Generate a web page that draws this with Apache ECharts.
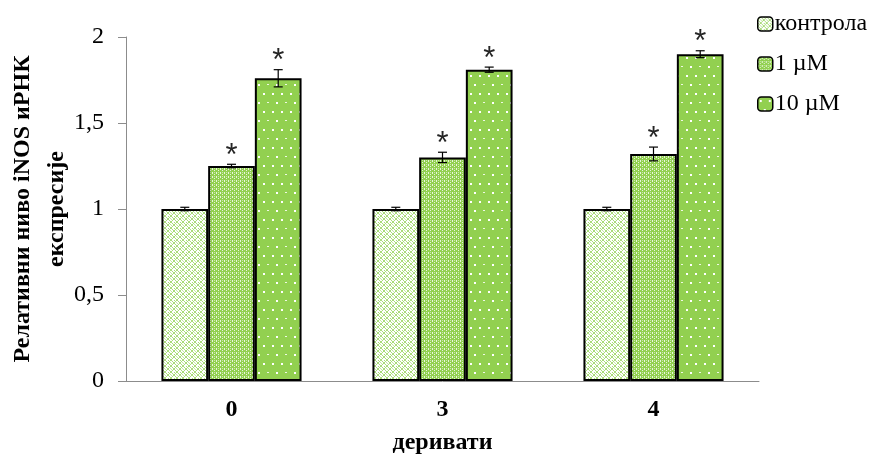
<!DOCTYPE html>
<html>
<head>
<meta charset="utf-8">
<script src="https://cdn.jsdelivr.net/npm/echarts@6/dist/echarts.min.js"></script>
<style>
  html, body { margin: 0; padding: 0; background: #fff; }
  #chart { width: 873px; height: 459px; }
</style>
</head>
<body>
<div id="chart"></div>
<script>
// Relative iNOS mRNA expression per derivative
const categories = ['0', '3', '4'];
const seriesNames = ['контрола', '1 µM', '10 µM'];
const kontrola = [1.00, 1.00, 1.00];
const um1 = [1.25, 1.30, 1.32];
const um10 = [1.76, 1.81, 1.90];
const errKontrola = [0.01, 0.01, 0.01];
const errUm1 = [0.01, 0.03, 0.04];
const errUm10 = [0.05, 0.015, 0.02];
const starKontrola = [false, false, false];
const starUm1 = [true, true, true];
const starUm10 = [true, true, true];
const yTicks = [0, 0.5, 1, 1.5, 2];

const GREEN = '#92d050';
const SERIF = '"Liberation Serif", "Times New Roman", serif';

// Fill tiles for the three bar styles
function makeTile(size, draw) {
  const c = document.createElement('canvas');
  c.width = size; c.height = size;
  const ctx = c.getContext('2d');
  draw(ctx, size);
  return c;
}
// light lattice on white
const tileKontrola = makeTile(6, (ctx, s) => {
  ctx.fillStyle = '#ffffff'; ctx.fillRect(0, 0, s, s);
  ctx.fillStyle = '#a9dc7a';
  ctx.fillRect(0, 0, 1, 1); ctx.fillRect(2, 0, 2, 1);
  ctx.fillRect(1, 1, 1, 1); ctx.fillRect(4, 1, 1, 1);
  ctx.fillRect(0, 2, 1, 2); ctx.fillRect(5, 2, 1, 2);
  ctx.fillRect(1, 4, 1, 1); ctx.fillRect(4, 4, 1, 1);
  ctx.fillRect(2, 5, 2, 1);
  ctx.fillStyle = '#c6e8a6';
  ctx.fillRect(3, 3, 1, 1); ctx.fillRect(2, 2, 1, 1);
});
// dense small white dots on green
const tileUm1 = makeTile(4, (ctx, s) => {
  ctx.fillStyle = GREEN; ctx.fillRect(0, 0, s, s);
  ctx.fillStyle = '#e8f5dc';
  ctx.fillRect(0, 0, 1, 2);
  ctx.fillRect(2, 2, 1, 1);
  ctx.fillStyle = '#c7e8a8';
  ctx.fillRect(2, 0, 1, 1);
});
// sparse white dots on green
const tileUm10 = makeTile(18, (ctx, s) => {
  ctx.fillStyle = GREEN; ctx.fillRect(0, 0, s, s);
  ctx.fillStyle = '#ffffff';
  ctx.fillRect(2, 3, 2, 2);
  ctx.fillRect(11, 3, 2, 2);
  ctx.fillRect(6, 12, 2, 2);
  ctx.fillStyle = '#eef8e4';
  ctx.fillRect(15, 12, 2, 1);
});

const fills = [tileKontrola, tileUm1, tileUm10].map(t => ({ image: t, repeat: 'repeat' }));
const values = [kontrola, um1, um10];
const errors = [errKontrola, errUm1, errUm10];
const stars = [starKontrola, starUm1, starUm10];
const CATEGORY_GAP = 0.336;

// rows for the error-bar / significance layer: [category, series, value, err, star]
const markRows = [];
categories.forEach((c, i) => {
  values.forEach((v, s) => {
    markRows.push([i, s, v[i], errors[s][i], stars[s][i] ? 1 : 0]);
  });
});

const barSeries = seriesNames.map((name, s) => ({
  name: name,
  type: 'bar',
  data: values[s],
  barGap: '0%',
  barCategoryGap: (CATEGORY_GAP * 100) + '%',
  itemStyle: { color: fills[s], borderColor: '#000', borderWidth: 2 },
  emphasis: { disabled: true },
  silent: true,
  z: 2
}));

const errorSeries = {
  type: 'custom',
  silent: true,
  z: 5,
  data: markRows,
  encode: { x: 0, y: 2 },
  renderItem: function (params, api) {
    const cat = api.value(0), s = api.value(1);
    const v = api.value(2), e = api.value(3), star = api.value(4);
    const band = api.size([1, 0])[0];
    const barW = band * (1 - CATEGORY_GAP) / 3;
    const cx = api.coord([cat, v])[0] + (s - 1) * barW;
    const yTop = api.coord([cat, v + e])[1];
    const yBot = api.coord([cat, v - e])[1];
    const cap = 4.5;
    const st = { stroke: '#000', lineWidth: 1.2 };
    const children = [
      { type: 'line', shape: { x1: cx, y1: yTop, x2: cx, y2: yBot }, style: st },
      { type: 'line', shape: { x1: cx - cap, y1: yTop, x2: cx + cap, y2: yTop }, style: st },
      { type: 'line', shape: { x1: cx - cap, y1: yBot, x2: cx + cap, y2: yBot }, style: st }
    ];
    if (star) {
      children.push({
        type: 'text',
        style: {
          text: '*', x: cx, y: yTop - 8,
          align: 'center', verticalAlign: 'middle',
          fill: '#262626', font: '31px "Liberation Sans", Arial, sans-serif'
        }
      });
    }
    return { type: 'group', children: children };
  }
};

const chart = echarts.init(document.getElementById('chart'), null, { renderer: 'canvas' });
chart.setOption({
  animation: false,
  backgroundColor: '#fff',
  grid: { left: 126, right: 114, top: 37, bottom: 78, containLabel: false, outerBoundsMode: 'none' },
  legend: {
    data: seriesNames,
    orient: 'vertical',
    left: 752,
    top: 7,
    itemWidth: 15,
    itemHeight: 14,
    itemGap: 16,
    itemStyle: { borderColor: '#000', borderWidth: 1.5 },
    textStyle: { fontFamily: SERIF, fontSize: 24, color: '#000', padding: [0, 0, 0, -3] },
    selectedMode: false
  },
  xAxis: {
    type: 'category',
    data: categories,
    name: 'деривати',
    nameLocation: 'middle',
    nameGap: 50,
    nameMoveOverlap: false,
    nameTextStyle: { fontFamily: SERIF, fontSize: 24, fontWeight: 'bold', color: '#000' },
    axisLine: { lineStyle: { color: '#8c8c8c', width: 1 } },
    axisTick: { show: false },
    axisLabel: { fontFamily: SERIF, fontSize: 24, fontWeight: 'bold', color: '#000', margin: 17 }
  },
  yAxis: {
    type: 'value',
    min: yTicks[0],
    max: yTicks[yTicks.length - 1],
    interval: yTicks[1] - yTicks[0],
    name: 'Релативни ниво iNOS иРНК\nекспресије',
    nameLocation: 'middle',
    nameGap: 52,
    nameMoveOverlap: false,
    nameTextStyle: { fontFamily: SERIF, fontSize: 24, fontWeight: 'bold', color: '#000', lineHeight: 34, align: 'center' },
    axisLine: { show: true, lineStyle: { color: '#8c8c8c', width: 1 } },
    axisTick: { show: true, length: 8, lineStyle: { color: '#8c8c8c' } },
    splitLine: { show: false },
    axisLabel: {
      fontFamily: SERIF, fontSize: 24, color: '#000', margin: 22,
      formatter: v => String(v).replace('.', ',')
    }
  },
  series: barSeries.concat([errorSeries])
});
</script>
</body>
</html>
